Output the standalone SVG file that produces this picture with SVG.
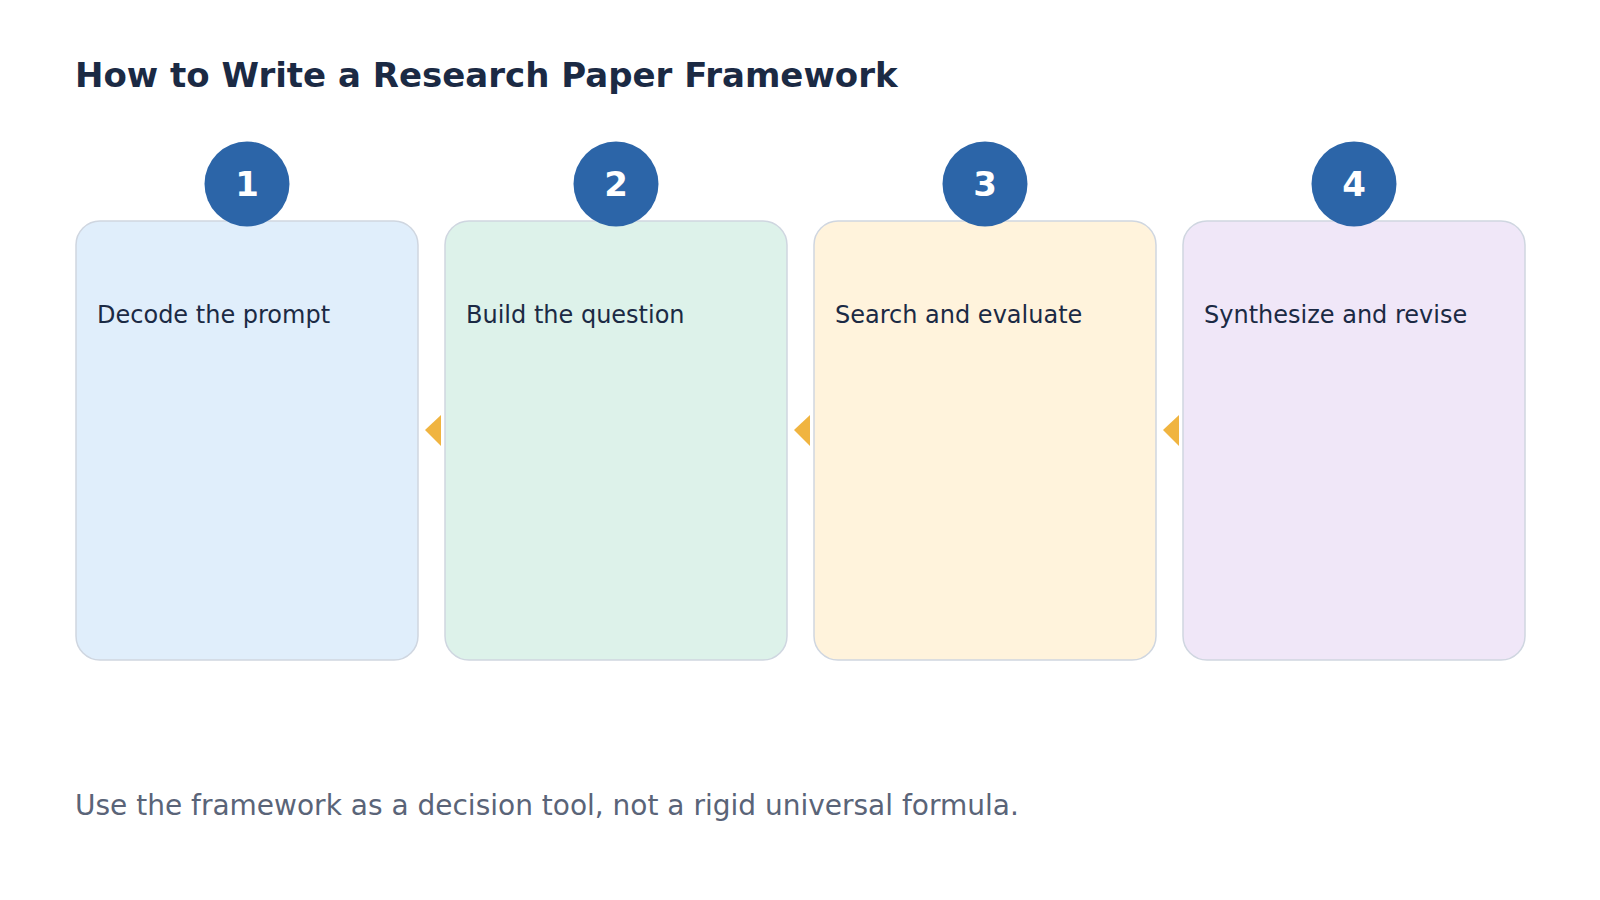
<svg xmlns="http://www.w3.org/2000/svg" width="1600" height="900" viewBox="0 0 1600 900">
<style>
.title{font-family:"DejaVu Sans",sans-serif;font-weight:bold;font-size:34px;fill:#1b2a44}
.card{stroke:#cfd6e0;stroke-width:1.5}
.badge{fill:#2c65a8}
.num{font-family:"DejaVu Sans",sans-serif;font-weight:bold;font-size:34px;fill:#ffffff}
.lbl{font-family:"DejaVu Sans",sans-serif;font-size:24px;fill:#1b2a44}
.foot{font-family:"DejaVu Sans",sans-serif;font-size:28px;fill:#5a6478}
.arrow{fill:#f0b440}
</style>
<rect width="1600" height="900" fill="#ffffff"/>
<text class="title" x="75" y="87">How to Write a Research Paper Framework</text>
<g id="connectors">
<polygon class="arrow" points="441,415 441,446 425,430"/>
<polygon class="arrow" points="810,415 810,446 794,430"/>
<polygon class="arrow" points="1179,415 1179,446 1163,430"/>
</g>
<g id="node1">
<rect class="card" x="76" y="221" width="342" height="439" rx="24" fill="#e0eefb"/>
<circle class="badge" cx="247" cy="184" r="42.5"/>
<text class="num" x="247" y="196" text-anchor="middle">1</text>
<text class="lbl" x="97" y="323">Decode the prompt</text>
</g>
<g id="node2">
<rect class="card" x="445" y="221" width="342" height="439" rx="24" fill="#ddf2ea"/>
<circle class="badge" cx="616" cy="184" r="42.5"/>
<text class="num" x="616" y="196" text-anchor="middle">2</text>
<text class="lbl" x="466" y="323">Build the question</text>
</g>
<g id="node3">
<rect class="card" x="814" y="221" width="342" height="439" rx="24" fill="#fff3dc"/>
<circle class="badge" cx="985" cy="184" r="42.5"/>
<text class="num" x="985" y="196" text-anchor="middle">3</text>
<text class="lbl" x="835" y="323">Search and evaluate</text>
</g>
<g id="node4">
<rect class="card" x="1183" y="221" width="342" height="439" rx="24" fill="#f0e7f8"/>
<circle class="badge" cx="1354" cy="184" r="42.5"/>
<text class="num" x="1354" y="196" text-anchor="middle">4</text>
<text class="lbl" x="1204" y="323">Synthesize and revise</text>
</g>
<text class="foot" x="75" y="815">Use the framework as a decision tool, not a rigid universal formula.</text>
</svg>
